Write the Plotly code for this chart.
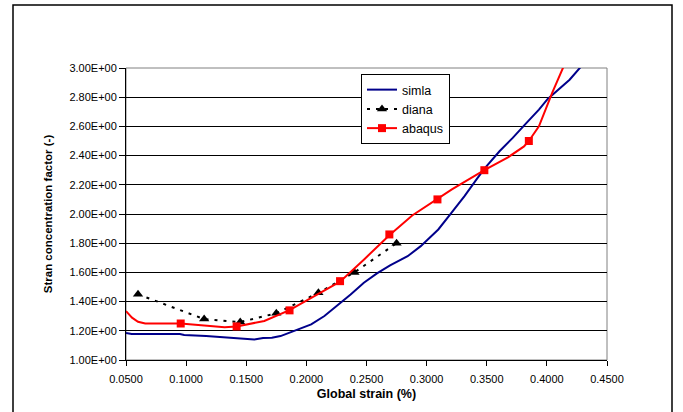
import plotly.graph_objects as go

# ---- data ----
simla_x = [0.0500, 0.0547, 0.0948, 0.0984, 0.1166, 0.1312, 0.1421, 0.1567, 0.1640,
           0.1713, 0.1785, 0.1858, 0.1931, 0.2040, 0.2150, 0.2259, 0.2368, 0.2478,
           0.2587, 0.2696, 0.2842, 0.2951, 0.3097, 0.3206, 0.3315, 0.3424, 0.3497,
           0.3606, 0.3716, 0.3825, 0.3934, 0.4007, 0.4080, 0.4189, 0.4298]
simla_y = [1.185, 1.178, 1.178, 1.171, 1.164, 1.157, 1.150, 1.140, 1.150,
           1.153, 1.164, 1.187, 1.214, 1.244, 1.301, 1.374, 1.449, 1.529,
           1.593, 1.648, 1.711, 1.780, 1.894, 2.008, 2.122, 2.247, 2.327,
           2.430, 2.521, 2.619, 2.715, 2.788, 2.840, 2.920, 3.023]

diana_x = [0.060, 0.115, 0.145, 0.175, 0.210, 0.240, 0.275]
diana_y = [1.45, 1.28, 1.26, 1.32, 1.46, 1.60, 1.80]

abaqus_line_x = [0.050, 0.055, 0.060, 0.066, 0.0955, 0.115, 0.132, 0.142, 0.165,
                 0.186, 0.207, 0.228, 0.248, 0.269, 0.288, 0.309, 0.321, 0.348,
                 0.368, 0.381, 0.385, 0.3934, 0.4044, 0.4142]
abaqus_line_y = [1.335, 1.290, 1.262, 1.250, 1.250, 1.238, 1.224, 1.230, 1.267,
                 1.342, 1.438, 1.536, 1.689, 1.855, 1.990, 2.104, 2.168, 2.300,
                 2.390, 2.463, 2.500, 2.601, 2.829, 3.016]
abaqus_x = [0.0955, 0.142, 0.186, 0.228, 0.269, 0.309, 0.348, 0.385]
abaqus_y = [1.25, 1.23, 1.34, 1.54, 1.86, 2.10, 2.30, 2.50]

y_tickvals = [1.0, 1.2, 1.4, 1.6, 1.8, 2.0, 2.2, 2.4, 2.6, 2.8, 3.0]
y_ticktext = ["1.00E+00", "1.20E+00", "1.40E+00", "1.60E+00", "1.80E+00", "2.00E+00",
              "2.20E+00", "2.40E+00", "2.60E+00", "2.80E+00", "3.00E+00"]
x_tickvals = [0.05, 0.10, 0.15, 0.20, 0.25, 0.30, 0.35, 0.40, 0.45]
x_ticktext = ["0.0500", "0.1000", "0.1500", "0.2000", "0.2500", "0.3000", "0.3500",
              "0.4000", "0.4500"]

NAVY = "#00008B"
RED = "#FF0000"

fig = go.Figure()
fig.add_trace(go.Scatter(x=simla_x, y=simla_y, mode="lines", name="simla",
                         line=dict(color=NAVY, width=2)))
fig.add_trace(go.Scatter(x=diana_x, y=diana_y, mode="lines+markers", name="diana",
                         line=dict(color="black", width=2, dash="3px,6px"),
                         marker=dict(symbol="triangle-up", size=9, color="black")))
fig.add_trace(go.Scatter(x=abaqus_line_x, y=abaqus_line_y, mode="lines", showlegend=False,
                         line=dict(color=RED, width=2), hoverinfo="skip"))
fig.add_trace(go.Scatter(x=abaqus_x, y=abaqus_y, mode="markers", showlegend=False,
                         marker=dict(symbol="square", size=8, color=RED)))
fig.add_trace(go.Scatter(x=[None], y=[None], mode="lines+markers", name="abaqus",
                         line=dict(color=RED, width=2),
                         marker=dict(symbol="square", size=8, color=RED)))

L, R, T, B = 126, 607, 68, 360
W, H = 683, 412
pw, ph = R - L, B - T

fig.update_layout(
    width=W, height=H,
    margin=dict(l=L, r=W - R, t=T, b=H - B, pad=0, autoexpand=False),
    paper_bgcolor="white", plot_bgcolor="white",
    font=dict(family="Liberation Sans, Arial, sans-serif", size=11, color="black"),
    showlegend=True,
    legend=dict(x=(361 - L) / pw, y=(B - 74) / ph, xanchor="left", yanchor="top",
                bgcolor="white", bordercolor="black", borderwidth=1,
                font=dict(size=12.5), tracegroupgap=0),
    xaxis=dict(range=[0.05, 0.45], tickvals=x_tickvals, ticktext=x_ticktext,
               automargin=False, ticklabelstandoff=4,
               showgrid=False, zeroline=False, showline=True, linecolor="black",
               linewidth=1, ticks="outside", ticklen=5, tickcolor="black",
               title=dict(text="<b>Global strain (%)</b>", font=dict(size=12.5), standoff=5)),
    yaxis=dict(range=[1.0, 3.0], tickvals=y_tickvals, ticktext=y_ticktext,
               automargin=False,
               showgrid=True, gridcolor="black", gridwidth=1, zeroline=False,
               showline=True, linecolor="black", linewidth=1, ticks="outside",
               ticklen=6, tickcolor="black",
               title=dict(text="<b>Stran concentration factor (-)</b>", font=dict(size=11.5),
                          standoff=14)),
    shapes=[
        dict(type="rect", xref="paper", yref="paper", x0=0, x1=1, y0=0, y1=1,
             line=dict(color="#808080", width=1), layer="between"),
        dict(type="rect", xref="paper", yref="paper",
             x0=(13 - L) / pw, x1=(672 - L) / pw, y0=(B - 420) / ph, y1=(B - 5) / ph,
             line=dict(color="black", width=1.5), layer="below"),
    ],
)

fig.write_html("out.html", config={"displayModeBar": False},
               post_script="document.body.style.margin='0';document.body.style.overflow='hidden';")
